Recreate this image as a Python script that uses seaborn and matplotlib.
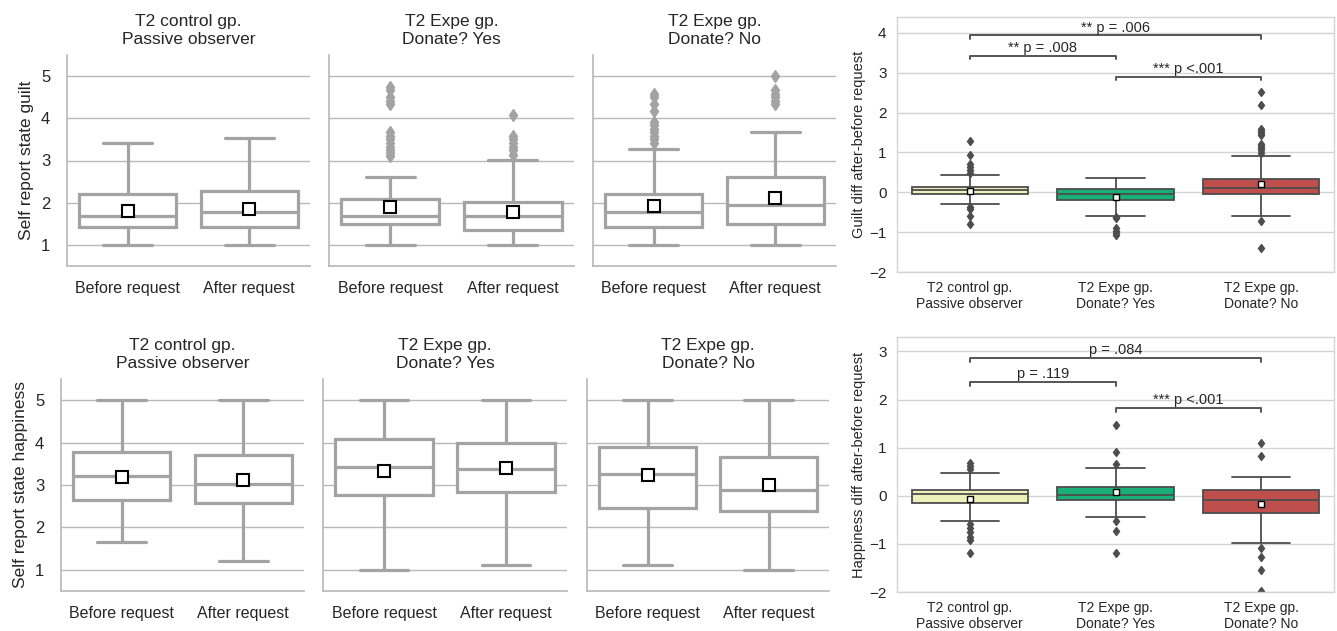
import matplotlib
matplotlib.use("Agg")
import matplotlib.pyplot as plt
import seaborn as sns

# --- data (box summaries) ---
conditions = ["Before request", "After request"]
groups = ["T2 control gp.\nPassive observer", "T2 Expe gp.\nDonate? Yes", "T2 Expe gp.\nDonate? No"]

# self report guilt: order = control before/after, yes before/after, no before/after
guilt_whislo = [1.0, 1.0, 1.0, 1.0, 1.0, 1.0]
guilt_q1 = [1.42, 1.42, 1.50, 1.36, 1.42, 1.50]
guilt_med = [1.69, 1.77, 1.69, 1.69, 1.77, 1.95]
guilt_q3 = [2.21, 2.28, 2.08, 2.02, 2.21, 2.61]
guilt_whishi = [3.42, 3.54, 2.61, 3.02, 3.27, 3.68]
guilt_mean = [1.81, 1.85, 1.89, 1.78, 1.93, 2.11]
guilt_fliers = [
    [],
    [],
    [3.1, 3.17, 3.25, 3.33, 3.42, 3.5, 3.58, 3.67, 4.33, 4.42, 4.5, 4.67, 4.75],
    [3.13, 3.25, 3.33, 3.42, 3.5, 3.58, 4.07],
    [3.42, 3.5, 3.58, 3.67, 3.75, 3.83, 3.92, 4.17, 4.33, 4.5, 4.58],
    [4.33, 4.42, 4.5, 4.58, 4.67, 5.0],
]

# self report happiness
happy_whislo = [1.65, 1.2, 1.0, 1.12, 1.12, 1.0]
happy_q1 = [2.65, 2.57, 2.76, 2.83, 2.46, 2.39]
happy_med = [3.21, 3.03, 3.43, 3.38, 3.27, 2.89]
happy_q3 = [3.79, 3.71, 4.08, 4.0, 3.9, 3.65]
happy_whishi = [5.0, 5.0, 5.0, 5.0, 5.0, 5.0]
happy_mean = [3.18, 3.11, 3.33, 3.40, 3.23, 3.0]
happy_fliers = [[], [], [], [], [], []]

# differences after - before, per group
gdiff_whislo = [-0.30, -0.59, -0.59]
gdiff_q1 = [-0.04, -0.19, -0.04]
gdiff_med = [0.07, -0.05, 0.10]
gdiff_q3 = [0.13, 0.09, 0.34]
gdiff_whishi = [0.43, 0.35, 0.90]
gdiff_mean = [0.04, -0.11, 0.20]
gdiff_fliers = [
    [1.28, 0.93, 0.7, 0.63, 0.55, 0.48, -0.37, -0.42, -0.59, -0.79],
    [-0.62, -0.65, -0.9, -0.97, -1.03, -1.07],
    [2.53, 2.18, 1.6, 1.55, 1.5, 1.45, 1.22, 1.15, 1.1, 1.05, 0.98, -0.71, -1.4],
]
gdiff_pairs = [(0, 2), (0, 1), (1, 2)]
gdiff_heights = [3.94, 3.42, 2.89]
gdiff_labels = ["** p = .006", "** p = .008", "*** p <.001"]

hdiff_whislo = [-0.52, -0.45, -0.99]
hdiff_q1 = [-0.15, -0.08, -0.35]
hdiff_med = [0.04, 0.02, -0.08]
hdiff_q3 = [0.12, 0.19, 0.11]
hdiff_whishi = [0.47, 0.57, 0.39]
hdiff_mean = [-0.07, 0.08, -0.18]
hdiff_fliers = [
    [0.69, 0.62, 0.55, -0.59, -0.67, -0.75, -0.85, -0.92, -1.18],
    [1.47, 0.92, 0.66, -0.53, -0.73, -1.18],
    [1.1, 0.83, -1.08, -1.27, -1.55, -1.98],
]
hdiff_pairs = [(0, 2), (0, 1), (1, 2)]
hdiff_heights = [2.86, 2.36, 1.82]
hdiff_labels = ["p = .084", "p = .119", "*** p <.001"]

group_colors = ["#eef0b9", "#1aae79", "#be4f4c"]

# --- style ---
sns.set_theme(style="whitegrid")
plt.rcParams["font.family"] = ["Liberation Sans", "DejaVu Sans"]
plt.rcParams["text.color"] = "#262626"
plt.rcParams["axes.labelcolor"] = "#262626"
plt.rcParams["xtick.color"] = "#262626"
plt.rcParams["ytick.color"] = "#262626"

W, H = 1337, 631
fig = plt.figure(figsize=(W / 100, H / 100), dpi=100)


def px_axes(x0, y0, x1, y1):
    return fig.add_axes([x0 / W, 1 - y1 / H, (x1 - x0) / W, (y1 - y0) / H])


def make_stats(lo, q1, med, q3, hi, mean, fliers, labels):
    return [dict(whislo=lo[i], q1=q1[i], med=med[i], q3=q3[i], whishi=hi[i],
                 mean=mean[i], fliers=fliers[i], label=labels[i])
            for i in range(len(labels))]


GRAY = "#a3a3a3"


def paired_panel(ax, stats, title, show_y, ylabel=None):
    lw = 2.3
    ax.bxp(stats, positions=[0, 1], widths=0.8, showmeans=True, patch_artist=True,
           boxprops=dict(facecolor="white", edgecolor=GRAY, linewidth=lw),
           medianprops=dict(color=GRAY, linewidth=lw),
           whiskerprops=dict(color=GRAY, linewidth=lw),
           capprops=dict(color=GRAY, linewidth=lw),
           flierprops=dict(marker="d", markerfacecolor=GRAY, markeredgecolor=GRAY, markersize=6.5),
           meanprops=dict(marker="s", markerfacecolor="white", markeredgecolor="black",
                          markeredgewidth=1.5, markersize=8))
    ax.set_xlim(-0.5, 1.5)
    ax.set_ylim(0.5, 5.5)
    ax.set_yticks([1, 2, 3, 4, 5])
    ax.grid(axis="y", color="#b8b8b8", linewidth=1.0)
    ax.grid(axis="x", visible=False)
    sns.despine(ax=ax)
    for side in ["left", "bottom"]:
        ax.spines[side].set_color("#b8b8b8")
        ax.spines[side].set_linewidth(1.2)
    ax.set_title(title, fontsize=12.5, pad=8)
    ax.tick_params(axis="x", labelsize=11.5, pad=4.5)
    ax.tick_params(axis="y", labelsize=12, pad=6)
    if show_y:
        ax.set_ylabel(ylabel, fontsize=12.5, labelpad=5)
    else:
        ax.tick_params(axis="y", labelleft=False)


def diff_panel(ax, stats, ylim, yticks, ylabel, pairs, heights, labels):
    ec = "#4d4d4d"
    art = ax.bxp(stats, positions=[0, 1, 2], widths=0.8, showmeans=True, patch_artist=True,
                 boxprops=dict(edgecolor=ec, linewidth=1.3),
                 medianprops=dict(color=ec, linewidth=1.3),
                 whiskerprops=dict(color=ec, linewidth=1.3),
                 capprops=dict(color=ec, linewidth=1.3),
                 flierprops=dict(marker="d", markerfacecolor=ec, markeredgecolor=ec, markersize=4.5),
                 meanprops=dict(marker="s", markerfacecolor="white", markeredgecolor="black",
                                markeredgewidth=1.0, markersize=5))
    for patch, col in zip(art["boxes"], group_colors):
        patch.set_facecolor(col)
    ax.set_xlim(-0.5, 2.5)
    ax.set_ylim(*ylim)
    ax.set_yticks(yticks)
    ax.grid(axis="y", color="#d4d4d4", linewidth=1.0)
    ax.grid(axis="x", visible=False)
    for side in ax.spines:
        ax.spines[side].set_color("#d4d4d4")
        ax.spines[side].set_linewidth(1.0)
    ax.tick_params(axis="x", labelsize=10, pad=0.5)
    ax.tick_params(axis="y", labelsize=11, pad=1.5)
    ax.set_ylabel(ylabel, fontsize=10.5, labelpad=2)
    # significance brackets
    h = 0.08
    for (a, b), y, lab in zip(pairs, heights, labels):
        ax.plot([a, a, b, b], [y - h, y, y, y - h], color="#555555", linewidth=1.4)
        ax.text((a + b) / 2, y + 0.02, lab, ha="center", va="bottom", fontsize=10.5)


# --- top row: guilt ---
guilt_stats = make_stats(guilt_whislo, guilt_q1, guilt_med, guilt_q3, guilt_whishi,
                         guilt_mean, guilt_fliers, conditions * 3)
top_boxes = [(67, 55, 310, 266), (329, 55, 574, 266), (593, 55, 836, 266)]
for g, rect in enumerate(top_boxes):
    ax = px_axes(*rect)
    paired_panel(ax, guilt_stats[2 * g:2 * g + 2], groups[g], g == 0, "Self report state guilt")

# --- bottom row: happiness ---
happy_stats = make_stats(happy_whislo, happy_q1, happy_med, happy_q3, happy_whishi,
                         happy_mean, happy_fliers, conditions * 3)
bottom_boxes = [(61, 379, 304, 591), (323, 379, 567, 591), (587, 379, 829, 591)]
for g, rect in enumerate(bottom_boxes):
    ax = px_axes(*rect)
    paired_panel(ax, happy_stats[2 * g:2 * g + 2], groups[g], g == 0, "Self report state happiness")

# --- right column: differences ---
ax = px_axes(897, 17, 1334, 272)
diff_panel(ax, make_stats(gdiff_whislo, gdiff_q1, gdiff_med, gdiff_q3, gdiff_whishi,
                          gdiff_mean, gdiff_fliers, groups),
           (-2, 4.4), [-2, -1, 0, 1, 2, 3, 4], "Guilt diff after-before request",
           gdiff_pairs, gdiff_heights, gdiff_labels)

ax = px_axes(897, 337, 1334, 592)
diff_panel(ax, make_stats(hdiff_whislo, hdiff_q1, hdiff_med, hdiff_q3, hdiff_whishi,
                          hdiff_mean, hdiff_fliers, groups),
           (-2, 3.3), [-2, -1, 0, 1, 2, 3], "Happiness diff after-before request",
           hdiff_pairs, hdiff_heights, hdiff_labels)

fig.savefig("out.png", dpi=100)
